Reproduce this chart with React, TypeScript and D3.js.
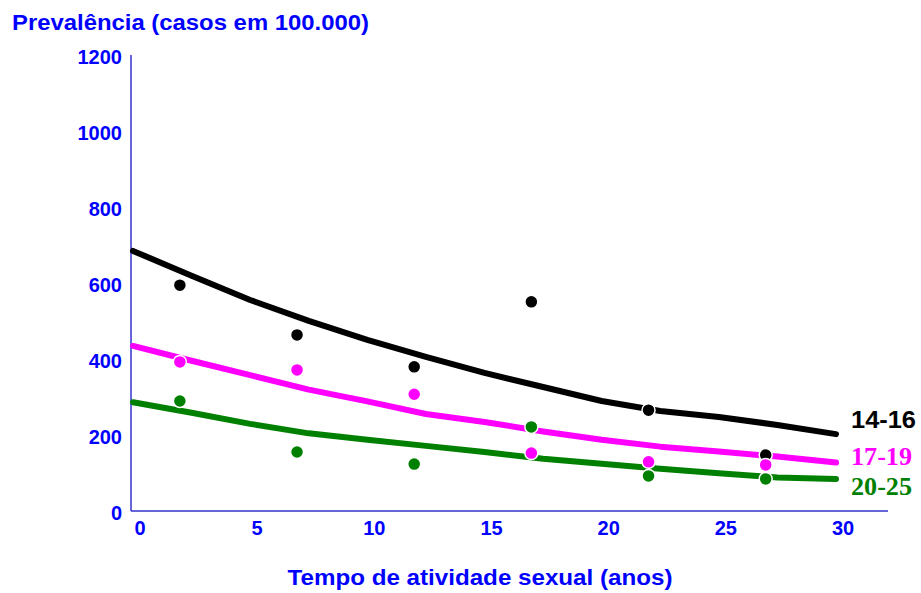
import React from "react";
import * as d3 from "d3";

const lineX = [0, 2.5, 5, 7.5, 10, 12.5, 15, 17.5, 20, 22.5, 25, 27.5, 30];
const line1416 = [687, 622, 558, 503, 453, 408, 366, 329, 292, 266, 250, 229, 205];
const line1719 = [437, 398, 360, 322, 291, 258, 237, 212, 190, 172, 159, 146, 130];
const line2025 = [289, 261, 232, 207, 190, 174, 158, 140, 127, 114, 102, 91, 87];

const pointX = [2, 7, 12, 17, 22, 27];
const pts1416 = [597, 466, 382, 553, 268, 150];
const pts1719 = [395, 374, 310, 155, 132, 124];
const pts2025 = [292, 158, 126, 224, 95, 87];

const yTicks = [0, 200, 400, 600, 800, 1000, 1200];
const xTicks = [0, 5, 10, 15, 20, 25, 30];

const series = [
  { name: "14-16", line: line1416, pts: pts1416, color: "#000000", serif: false, ly: 428, fs: 24, tl: 65 },
  { name: "17-19", line: line1719, pts: pts1719, color: "#ff00ff", serif: true, ly: 465, fs: 26, tl: 61 },
  { name: "20-25", line: line2025, pts: pts2025, color: "#008000", serif: true, ly: 495, fs: 26, tl: 61 },
];

export default function App() {
  const x = d3.scaleLinear().domain([0, 30]).range([133, 836]);
  const y = d3.scaleLinear().domain([0, 1200]).range([512, 56]);
  const gen = d3
    .line<[number, number]>()
    .x((d) => x(d[0]))
    .y((d) => y(d[1]));
  const blue = "#0000ff";
  const sans = "'Liberation Sans', Arial, sans-serif";
  const serif = "'Liberation Serif', 'Times New Roman', serif";
  return (
    <svg
      width={921}
      height={593}
      style={{ position: "absolute", left: 0, top: 0, background: "#fff" }}
    >
      <text x={12} y={30} fontFamily={sans} fontWeight="bold" fontSize={22} fill={blue} textLength={357} lengthAdjust="spacingAndGlyphs">
        Prevalência (casos em 100.000)
      </text>
      <line x1={131} y1={55} x2={131} y2={511} stroke="#3333cc" strokeWidth={1.5} />
      <line x1={131} y1={511} x2={888} y2={511} stroke="#3333cc" strokeWidth={1.5} />
      {yTicks.map((v) => (
        <text key={v} x={122} y={y(v) + 8} textAnchor="end" fontFamily={sans} fontWeight="bold" fontSize={20} fill={blue}>
          {v}
        </text>
      ))}
      {xTicks.map((v) => (
        <text key={v} x={x(v) + 7} y={535} textAnchor="middle" fontFamily={sans} fontWeight="bold" fontSize={20} fill={blue}>
          {v}
        </text>
      ))}
      <text x={480} y={585} textAnchor="middle" fontFamily={sans} fontWeight="bold" fontSize={22} fill={blue} textLength={385} lengthAdjust="spacingAndGlyphs">
        Tempo de atividade sexual (anos)
      </text>
      {series.map((s) => (
        <path
          key={s.name}
          d={gen(lineX.map((v, i) => [v, s.line[i]]) as [number, number][]) || ""}
          fill="none"
          stroke={s.color}
          strokeWidth={6}
          strokeLinejoin="round"
          strokeLinecap="round"
        />
      ))}
      {series.map((s) =>
        s.pts.map((v, i) => (
          <circle key={s.name + i} cx={x(pointX[i])} cy={y(v)} r={6.5} fill={s.color} stroke="#fff" strokeWidth={1.5} />
        ))
      )}
      {series.map((s) => (
        <text key={s.name} x={851} y={s.ly} fontFamily={s.serif ? serif : sans} fontWeight="bold" fontSize={s.fs} fill={s.color} textLength={s.tl} lengthAdjust="spacingAndGlyphs">
          {s.name}
        </text>
      ))}
    </svg>
  );
}
